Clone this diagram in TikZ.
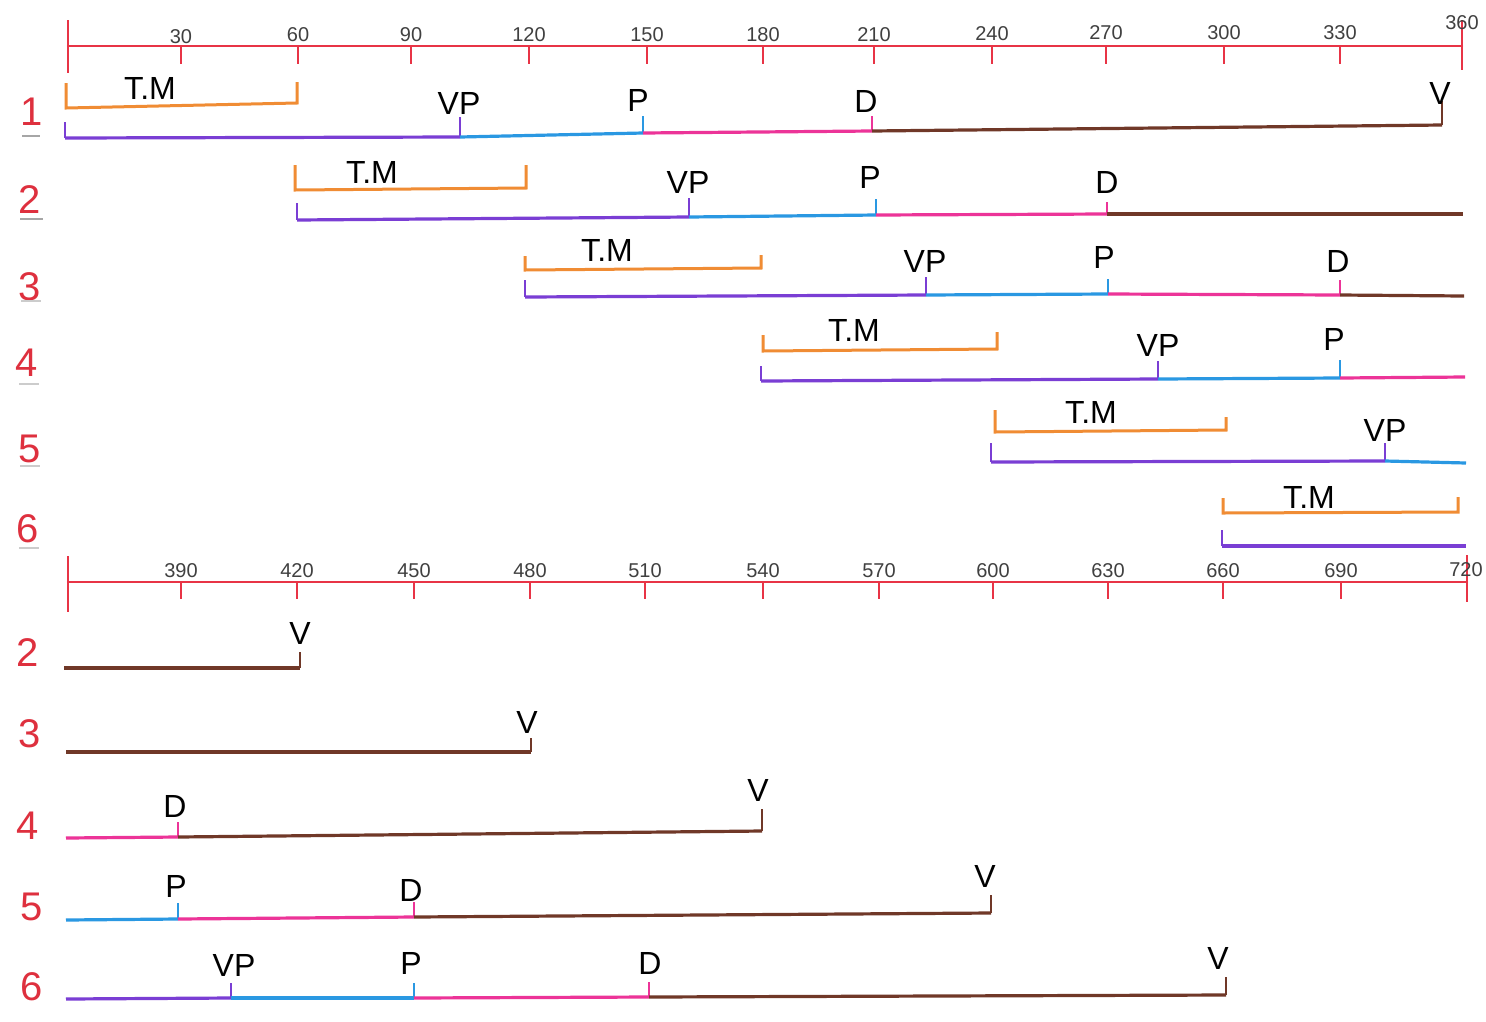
\documentclass[tikz,border=0pt]{standalone}
\usepackage{fontspec}
\setmainfont{Liberation Sans}
\definecolor{axred}{RGB}{232,52,70}
\definecolor{rowred}{RGB}{222,48,62}
\definecolor{corange}{RGB}{240,140,52}
\definecolor{cpurple}{RGB}{122,62,212}
\definecolor{cblue}{RGB}{42,152,226}
\definecolor{cpink}{RGB}{236,52,152}
\definecolor{cbrown}{RGB}{112,56,40}
\newcommand\evt[8]{%
  \coordinate (#1) at (#2,#3);
  \draw[mk,draw=#4] (#1) -- ++(0,-#5);
  \node[lbl] (#1l) at (#7,#8) {#6};}
\begin{document}
\begin{tikzpicture}[x=1pt,y=-1pt,
  axis/.style={draw=axred,line width=2.4pt,line cap=round},
  axtick/.style={draw=axred,line width=2pt},
  num/.style={font=\fontsize{20}{22}\selectfont,text=black!75,inner sep=0pt},
  lbl/.style={font=\fontsize{32}{34}\selectfont,text=black,inner sep=0pt},
  rowlbl/.style={font=\fontsize{40}{42}\selectfont,text=rowred,inner sep=0pt},
  seg/.style={line width=3.2pt},
  mk/.style={line width=2.2pt},
  tmline/.style={draw=corange,line width=3pt},
  uline/.style={draw=black!35,line width=1.4pt}]
\useasboundingbox (0,0) rectangle (1486,1021);
\fill[white] (0,0) rectangle (1486,1021);

% ---------- top axis ----------
\coordinate (A0) at (68,46);
\coordinate (A360) at (1462,46);
\draw[axis] (A0) -- (A360);
\draw[axtick] ([yshift=26pt]A0) -- ([yshift=-27pt]A0);
\draw[axtick] ([yshift=26pt]A360) -- ([yshift=-24pt]A360);
\node[num] (L360) at (1462,23) {360};
\foreach \v/\x/\ly in {30/181/37,60/298/35,90/411/35,120/529/35,150/647/35,180/763/35,210/874/35,240/992/34,270/1106/33,300/1224/33,330/1340/33}{
  \coordinate (T\v) at (\x,46);
  \draw[axtick] (T\v) -- ++(0,18);
  \node[num] (L\v) at (\x,\ly) {\v};
}

% ---------- bottom axis ----------
\coordinate (B360) at (68,582);
\coordinate (B720) at (1467,582);
\draw[axis] (B360) -- (B720);
\draw[axtick] ([yshift=26pt]B360) -- ([yshift=-30pt]B360);
\draw[axtick] ([yshift=27pt]B720) -- ([yshift=-20pt]B720);
\node[num] (L720) at (1466,570) {720};
\foreach \v/\x in {390/181,420/297,450/414,480/530,510/645,540/763,570/879,600/993,630/1108,660/1223,690/1341}{
  \coordinate (T\v) at (\x,582);
  \draw[axtick] (T\v) -- ++(0,17);
  \node[num] (L\v) at (\x,571) {\v};
}

% ---------- row numbers ----------
\foreach \n/\t/\x/\y in {n1/1/32/112,n2/2/30/200,n3/3/30/287,n4/4/27/363,n5/5/30/449,n6/6/28/529,
  m2/2/28/653,m3/3/30/734,m4/4/28/826,m5/5/32/907,m6/6/32/987}{
  \node[rowlbl] (\n) at (\x,\y) {\t};
}
\draw[uline] (22,136) -- (40,136);
\draw[uline] (20,219) -- (43,219);
\draw[uline,black!20] (21,301) -- (41,301);
\draw[uline,black!20] (19,384) -- (39,384);
\draw[uline,black!20] (20,466) -- (40,466);
\draw[uline,black!20] (19,548) -- (39,548);

% ---------- T.M brackets ----------
\foreach \i/\xa/\ya/\xb/\yb/\ha/\hb/\lx/\ly in {
  1/66/108/297/103/25/21/150/88,
  2/295/190/526/188/25/23/372/172,
  3/525/270/761/268/14/13/607/250,
  4/763/351/997/349/16/17/854/330,
  5/995/432/1226/430/22/13/1091/412,
  6/1223/513/1458/512/15/15/1309/497}{
  \coordinate (tm\i a) at (\xa,\ya);
  \coordinate (tm\i b) at (\xb,\yb);
  \draw[tmline] ([yshift=\ha pt]tm\i a) -- (tm\i a) -- (tm\i b) -- ([yshift=\hb pt]tm\i b);
  \node[lbl] (tm\i l) at (\lx,\ly) {T.M};
}

% ---------- row 1 ----------
\coordinate (r1s) at (65,138);
\draw[mk,draw=cpurple] (r1s) -- ++(0,-16);
\evt{r1vp}{460}{137}{cpurple}{20}{VP}{459}{103}
\evt{r1p}{643}{133}{cblue}{17}{P}{638}{100}
\evt{r1d}{872}{131}{cpink}{15}{D}{866}{101}
\evt{r1v}{1442}{125}{cbrown}{24}{V}{1440}{93}
\draw[seg,cpurple] (r1s) -- (r1vp);
\draw[seg,cblue] (r1vp) -- (r1p);
\draw[seg,cpink] (r1p) -- (r1d);
\draw[seg,cbrown] (r1d) -- (r1v);

% ---------- row 2 ----------
\coordinate (r2s) at (297,220);
\draw[mk,draw=cpurple] (r2s) -- ++(0,-17);
\evt{r2vp}{689}{217}{cpurple}{19}{VP}{688}{182}
\evt{r2p}{876}{215}{cblue}{16}{P}{870}{177}
\evt{r2d}{1107}{214}{cpink}{12}{D}{1107}{182}
\coordinate (r2e) at (1463,214);
\draw[seg,cpurple] (r2s) -- (r2vp);
\draw[seg,cblue] (r2vp) -- (r2p);
\draw[seg,cpink] (r2p) -- (r2d);
\draw[seg,cbrown] (r2d) -- (r2e);

% ---------- row 3 ----------
\coordinate (r3s) at (525,297);
\draw[mk,draw=cpurple] (r3s) -- ++(0,-17);
\evt{r3vp}{926}{295}{cpurple}{18}{VP}{925}{261}
\evt{r3p}{1108}{294}{cblue}{15}{P}{1104}{257}
\evt{r3d}{1340}{295}{cpink}{15}{D}{1338}{261}
\coordinate (r3e) at (1464,296);
\draw[seg,cpurple] (r3s) -- (r3vp);
\draw[seg,cblue] (r3vp) -- (r3p);
\draw[seg,cpink] (r3p) -- (r3d);
\draw[seg,cbrown] (r3d) -- (r3e);

% ---------- row 4 ----------
\coordinate (r4s) at (761,381);
\draw[mk,draw=cpurple] (r4s) -- ++(0,-15);
\evt{r4vp}{1158}{379}{cpurple}{18}{VP}{1158}{345}
\evt{r4p}{1340}{378}{cblue}{18}{P}{1334}{339}
\coordinate (r4e) at (1465,377);
\draw[seg,cpurple] (r4s) -- (r4vp);
\draw[seg,cblue] (r4vp) -- (r4p);
\draw[seg,cpink] (r4p) -- (r4e);

% ---------- row 5 ----------
\coordinate (r5s) at (991,462);
\draw[mk,draw=cpurple] (r5s) -- ++(0,-19);
\evt{r5vp}{1385}{461}{cpurple}{18}{VP}{1385}{430}
\coordinate (r5e) at (1466,463);
\draw[seg,cpurple] (r5s) -- (r5vp);
\draw[seg,cblue] (r5vp) -- (r5e);

% ---------- row 6 ----------
\coordinate (r6s) at (1222,546);
\draw[mk,draw=cpurple] (r6s) -- ++(0,-16);
\coordinate (r6e) at (1466,546);
\draw[seg,cpurple] (r6s) -- (r6e);

% ---------- second period rows ----------
\coordinate (s2s) at (64,668);
\evt{s2v}{300}{668}{cbrown}{16}{V}{300}{633}
\draw[seg,cbrown] (s2s) -- (s2v);

\coordinate (s3s) at (66,752);
\evt{s3v}{531}{752}{cbrown}{14}{V}{527}{722}
\draw[seg,cbrown] (s3s) -- (s3v);

\coordinate (s4s) at (66,838);
\evt{s4d}{178}{837}{cpink}{15}{D}{175}{806}
\evt{s4v}{762}{831}{cbrown}{22}{V}{758}{790}
\draw[seg,cpink] (s4s) -- (s4d);
\draw[seg,cbrown] (s4d) -- (s4v);

\coordinate (s5s) at (66,920);
\evt{s5p}{178}{919}{cblue}{16}{P}{176}{886}
\evt{s5d}{414}{917}{cpink}{15}{D}{411}{890}
\evt{s5v}{991}{913}{cbrown}{18}{V}{985}{876}
\draw[seg,cblue] (s5s) -- (s5p);
\draw[seg,cpink] (s5p) -- (s5d);
\draw[seg,cbrown] (s5d) -- (s5v);

\coordinate (s6s) at (66,999);
\evt{s6vp}{231}{998}{cpurple}{15}{VP}{234}{965}
\evt{s6p}{414}{998}{cblue}{15}{P}{411}{963}
\evt{s6d}{649}{997}{cpink}{15}{D}{650}{963}
\evt{s6v}{1226}{995}{cbrown}{18}{V}{1218}{958}
\draw[seg,cpurple] (s6s) -- (s6vp);
\draw[seg,cblue] (s6vp) -- (s6p);
\draw[seg,cpink] (s6p) -- (s6d);
\draw[seg,cbrown] (s6d) -- (s6v);
\end{tikzpicture}
\end{document}
